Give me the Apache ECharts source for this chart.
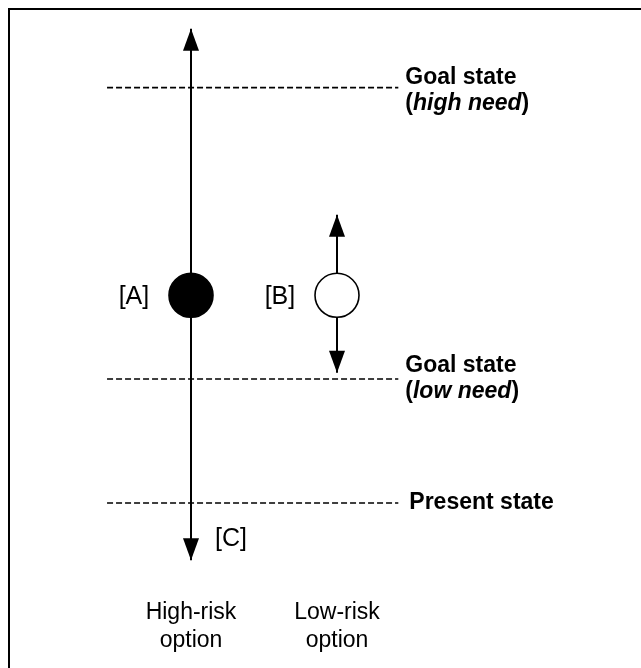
<!DOCTYPE html>
<html>
<head>
<meta charset="utf-8">
<script src="https://cdn.jsdelivr.net/npm/echarts@6/dist/echarts.min.js"></script>
<style>
html,body{margin:0;padding:0;background:#fff;}
#chart{width:641px;height:668px;}
</style>
</head>
<body>
<div id="chart"></div>
<script>
// ---- data ----
const levelTitles = ['Present state', 'Goal state', 'Goal state'];
const levelNotes = ['', 'low need', 'high need'];
const levelValues = [0, 4, 13.4];
const levelLineStart = 0.425;
const levelLineEnd = 2.42;

const optionNames = ['High-risk\noption', 'Low-risk\noption'];
const optionX = [1, 2];
const optionLabelLevel = -4.0;
const optionExpected = [6.7, 6.7];
const optionMarks = ['[A]', '[B]'];
const optionUpper = [15.3, 9.3];
const optionLower = [-1.85, 4.2];
const optionFilled = [true, false];

const extraLabel = '[C]';
const extraLabelPos = [1.274, -1.15];

// ---- chart ----
const FONT = "'Helvetica Neue', Helvetica, 'Liberation Sans', Arial, sans-serif";
const chart = echarts.init(document.getElementById('chart'));
const series = [];
const hidden = { color: 'rgba(255,255,255,0)', borderWidth: 0, opacity: 1 };

levelValues.forEach((v, i) => {
  const note = levelNotes[i];
  series.push({
    type: 'line',
    data: [[levelLineStart, v], [levelLineEnd, v]],
    symbol: 'none',
    silent: true,
    animation: false,
    lineStyle: { color: '#000', width: 1.7, type: [6, 3] },
    endLabel: {
      show: true,
      distance: i === 0 ? 11 : 7,
      offset: [0, i === 2 ? 3 : 0],
      formatter: () => note
        ? '{b|' + levelTitles[i] + '}\n{b|(}{bi|' + note + '}{b|)}'
        : '{b|' + levelTitles[i] + '}',
      rich: {
        b: { fontFamily: FONT, fontWeight: 'bold', fontSize: 23, color: '#000', lineHeight: 26 },
        bi: { fontFamily: FONT, fontWeight: 'bold', fontStyle: 'italic', fontSize: 23, color: '#000', lineHeight: 26 }
      }
    },
    z: 1
  });
});

optionX.forEach((x, i) => {
  series.push({
    type: 'line',
    data: [[x, optionLower[i]], [x, optionUpper[i]]],
    symbol: 'none', silent: true, animation: false,
    lineStyle: { color: '#000', width: 2 },
    z: 2
  });
  series.push({
    type: 'scatter',
    data: [
      { value: [x, optionUpper[i]], symbolRotate: 0, symbolOffset: [0, 11] },
      { value: [x, optionLower[i]], symbolRotate: 180, symbolOffset: [0, -11] }
    ],
    symbol: 'triangle', symbolSize: [16, 22],
    itemStyle: { color: '#000', opacity: 1 },
    silent: true, animation: false, z: 3
  });
  series.push({
    type: 'scatter',
    data: [[x, optionExpected[i]]],
    symbol: 'circle', symbolSize: 44,
    itemStyle: {
      color: optionFilled[i] ? '#000' : '#fff',
      borderColor: '#000', borderWidth: 1.6, opacity: 1
    },
    label: {
      show: true, position: 'left', distance: 19, offset: [0, 2],
      formatter: optionMarks[i],
      fontFamily: FONT, fontSize: 25, color: '#000'
    },
    silent: true, animation: false, z: 4
  });
  series.push({
    type: 'scatter',
    data: [[x, optionLabelLevel]],
    symbol: 'circle', symbolSize: 2,
    itemStyle: hidden,
    label: {
      show: true, position: 'inside', opacity: 1,
      formatter: optionNames[i],
      fontFamily: FONT, fontSize: 23, lineHeight: 28, color: '#000', align: 'center'
    },
    silent: true, animation: false, z: 5
  });
});

series.push({
  type: 'scatter',
  data: [extraLabelPos],
  symbol: 'circle', symbolSize: 2,
  itemStyle: hidden,
  label: {
    show: true, position: 'inside', formatter: extraLabel, opacity: 1,
    fontFamily: FONT, fontSize: 25, color: '#000'
  },
  silent: true, animation: false, z: 5
});

chart.setOption({
  animation: false,
  backgroundColor: '#fff',
  grid: { left: 0, right: 0, top: 0, bottom: 0 },
  xAxis: { type: 'value', min: 1 - 191 / 146, max: 1 + 450 / 146, show: false },
  yAxis: { type: 'value', min: -165 / 31, max: 503 / 31, show: false },
  graphic: [{
    type: 'rect',
    shape: { x: 9, y: 9, width: 700, height: 700 },
    style: { fill: null, stroke: '#000', lineWidth: 2 },
    silent: true
  }],
  series: series
});
</script>
</body>
</html>
